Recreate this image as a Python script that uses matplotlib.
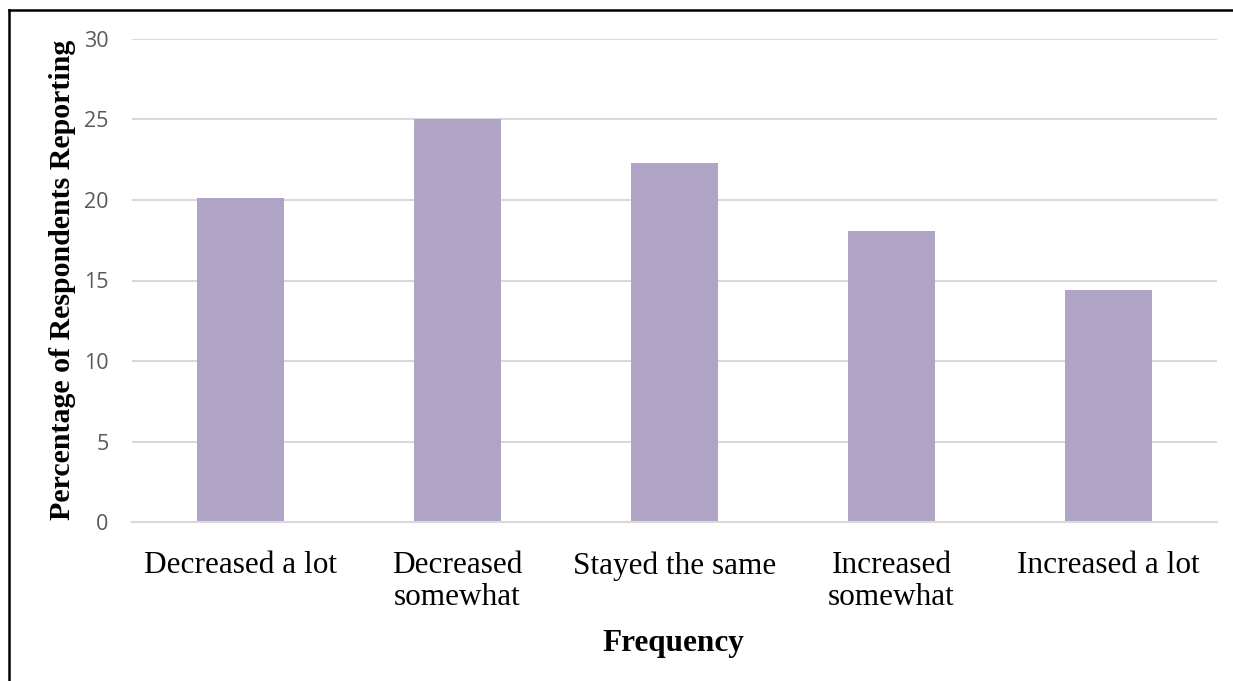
import matplotlib.pyplot as plt
from matplotlib.lines import Line2D
import numpy as np

categories = ["Decreased a lot", "Decreased\nsomewhat", "Stayed the same",
              "Increased\nsomewhat", "Increased a lot"]
percentages = [20.1, 25.0, 22.3, 18.1, 14.4]
y_ticks = [0, 5, 10, 15, 20, 25, 30]

W, H = 1233, 681
fig = plt.figure(figsize=(W / 100, H / 100), dpi=100)
ax = fig.add_axes([132 / W, 1 - 522 / H, (1217 - 132) / W, (522 - 39) / H])

x = np.arange(len(categories))
ax.bar(x, percentages, width=0.4, color="#b0a4c6", zorder=2)

ax.set_xlim(-0.5, len(categories) - 0.5)
ax.set_ylim(0, 30)
ax.set_yticks(y_ticks)
ax.set_yticklabels([str(t) for t in y_ticks], fontfamily="Open Sans",
                   fontsize=15.5, color="#595959")
ax.set_xticks(x)
ax.set_xticklabels(categories, fontfamily="Liberation Serif", fontsize=22.5,
                   color="black", linespacing=1.15)
ax.tick_params(axis="y", length=0, pad=17)
ax.tick_params(axis="x", length=0, pad=21)

ax.yaxis.grid(True, color="#d9d9d9", linewidth=1.5, zorder=0)
ax.set_axisbelow(True)
for s in ["top", "right", "left"]:
    ax.spines[s].set_visible(False)
ax.spines["bottom"].set_color("#d9d9d9")
ax.spines["bottom"].set_linewidth(1.5)

fig.text(63 / W, 1 - 280 / H, "Percentage of Respondents Reporting",
         rotation=90, ha="center", va="center", fontfamily="Liberation Serif",
         fontweight="bold", fontsize=21.5)
fig.text(673 / W, 1 - 644 / H, "Frequency", ha="center", va="center",
         fontfamily="Liberation Serif", fontweight="bold", fontsize=22.5)

# frame lines at the top and left edges of the picture
fig.add_artist(Line2D([9 / W, 1], [1 - 10 / H, 1 - 10 / H], color="black",
                      linewidth=1.8, transform=fig.transFigure))
fig.add_artist(Line2D([9 / W, 9 / W], [0, 1 - 10 / H], color="black",
                      linewidth=1.8, transform=fig.transFigure))

fig.savefig("out.png", dpi=100)
